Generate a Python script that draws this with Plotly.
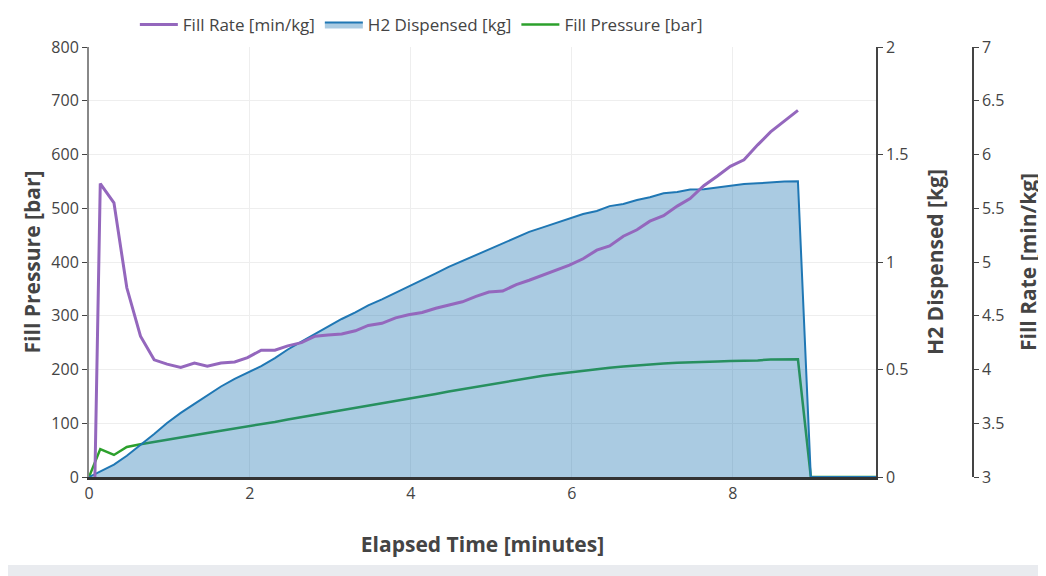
import plotly.graph_objects as go

# Elapsed time [minutes]
time_min = [0, 0.14, 0.31, 0.47, 0.64, 0.81, 0.97, 1.14, 1.31, 1.47, 1.64, 1.81, 1.97,
            2.14, 2.31, 2.47, 2.64, 2.81, 2.97, 3.14, 3.31, 3.47, 3.64, 3.81, 3.97,
            4.14, 4.31, 4.47, 4.64, 4.81, 4.97, 5.14, 5.31, 5.47, 5.64, 5.81, 5.97,
            6.14, 6.31, 6.47, 6.64, 6.81, 6.97, 7.14, 7.31, 7.47, 7.64, 7.81, 7.97,
            8.14, 8.31, 8.47, 8.64, 8.81, 8.97, 9.14, 9.31, 9.47, 9.64, 9.81]

# Fill Rate [min/kg]
fill_rate = [0, 5.73, 5.55, 4.76, 4.31, 4.09, 4.05, 4.02, 4.06, 4.03, 4.06, 4.07, 4.11,
             4.18, 4.18, 4.22, 4.25, 4.31, 4.32, 4.33, 4.36, 4.41, 4.43, 4.48, 4.51,
             4.53, 4.57, 4.60, 4.63, 4.68, 4.72, 4.73, 4.79, 4.83, 4.88, 4.93, 4.97,
             5.03, 5.11, 5.15, 5.24, 5.30, 5.38, 5.43, 5.52, 5.59, 5.71, 5.80, 5.89,
             5.95, 6.09, 6.21, 6.31, 6.41, None, None, None, None, None, None]

# H2 Dispensed [kg]
h2_dispensed = [0, 0.025, 0.058, 0.099, 0.149, 0.200, 0.251, 0.298, 0.340, 0.379, 0.421, 0.456, 0.484,
                0.516, 0.553, 0.593, 0.630, 0.667, 0.702, 0.735, 0.766, 0.798, 0.826, 0.856, 0.886,
                0.916, 0.947, 0.977, 1.005, 1.033, 1.058, 1.086, 1.112, 1.140, 1.161, 1.181, 1.203,
                1.223, 1.237, 1.260, 1.270, 1.288, 1.301, 1.320, 1.326, 1.337, 1.338, 1.347, 1.355,
                1.363, 1.366, 1.370, 1.374, 1.375, 0, 0, 0, 0, 0, 0]

# Fill Pressure [bar]
fill_pressure = [0, 52, 41, 56, 61, 65.5, 69.6, 73.7, 77.8, 81.9, 86, 90, 94.1,
                 98.4, 102.5, 107, 111.3, 115.5, 120, 124.3, 128.6, 133, 137.3, 141.6, 146,
                 150.3, 154.6, 158.9, 163.3, 167.6, 171.2, 175.8, 180.5, 185.3, 188.5, 191.6, 194.6,
                 197.6, 200.6, 203.4, 205.6, 207.8, 210.2, 211.2, 212.7, 213, 213.6, 214.7, 215.8,
                 216.2, 216.9, 218.6, 219, 219, 0, 0, 0, 0, 0, 0]

FONT = "Open Sans"
TXT = "#444"

fig = go.Figure()
fig.add_trace(go.Scatter(x=time_min, y=fill_rate, name="Fill Rate [min/kg]", yaxis="y3",
                         mode="lines", line=dict(color="#9467bd", width=3)))
fig.add_trace(go.Scatter(x=time_min, y=h2_dispensed, name="H2 Dispensed [kg]", yaxis="y2",
                         mode="lines", fill="tozeroy", fillcolor="rgba(31,119,180,0.38)",
                         line=dict(color="#1f77b4", width=2)))
fig.add_trace(go.Scatter(x=time_min, y=fill_pressure, name="Fill Pressure [bar]", yaxis="y",
                         mode="lines", line=dict(color="#2ca02c", width=2.5)))

title_font = dict(family=FONT, size=21, color=TXT, weight="bold")
tick_font = dict(family=FONT, size=16, color=TXT)

# page has an 8px body margin, so figure coordinates are page coordinates minus 8
W, H = 1038, 568
L, R, T, B = 81, 40, 39, 99
pw = W - L - R
ph = H - T - B
plot_right = 868
rate_axis_x = 965

fig.update_layout(
    width=W, height=H,
    margin=dict(l=L, r=R, t=T, b=B, pad=0, autoexpand=False),
    paper_bgcolor="#e9ebef",
    plot_bgcolor="white",
    font=dict(family=FONT, color=TXT),
    showlegend=True,
    legend=dict(orientation="h", x=0.05, xanchor="left", yref="container",
                y=1 - 17 / H, yanchor="middle", itemwidth=38,
                font=dict(family=FONT, size=17, color=TXT), bgcolor="rgba(0,0,0,0)"),
    xaxis=dict(domain=[0, (plot_right - L) / pw], range=[0, 9.78], dtick=2, showgrid=True,
               gridcolor="#eeeeee", zeroline=False, showline=True, linecolor="#333",
               linewidth=3, ticks="", tickfont=tick_font, automargin=False,
               title=dict(text="Elapsed Time [minutes]", font=title_font, standoff=35)),
    yaxis=dict(range=[0, 800], dtick=100, showgrid=True, gridcolor="#eeeeee", zeroline=False,
               showline=True, linecolor="#888", linewidth=2, ticks="outside", ticklen=5,
               tickcolor="#444", tickfont=tick_font, automargin=False,
               title=dict(text="Fill Pressure [bar]", font=title_font, standoff=5)),
    yaxis2=dict(range=[0, 2], dtick=0.5, overlaying="y", side="right", anchor="x",
                showgrid=False, zeroline=False, showline=True, linecolor="#444", linewidth=1.5,
                ticks="outside", ticklen=5, tickcolor="#444", tickfont=tick_font, automargin=False,
                title=dict(text="H2 Dispensed [kg]", font=title_font, standoff=21)),
    yaxis3=dict(range=[3, 7], dtick=0.5, overlaying="y", side="right", anchor="free",
                position=(rate_axis_x - L) / pw, showgrid=False, zeroline=False, showline=True,
                linecolor="#444", linewidth=1.5, ticks="outside", ticklen=5, tickcolor="#444",
                tickfont=tick_font, automargin=False,
                title=dict(text="Fill Rate [min/kg]", font=title_font, standoff=17)),
    shapes=[dict(type="rect", xref="paper", yref="paper", layer="below",
                 x0=(-4 - L) / pw, x1=(1034 - L) / pw,
                 y0=(469 - 557) / ph, y1=(469 + 2) / ph,
                 fillcolor="white", line=dict(width=0))],
)

fig.write_html("out.html")
